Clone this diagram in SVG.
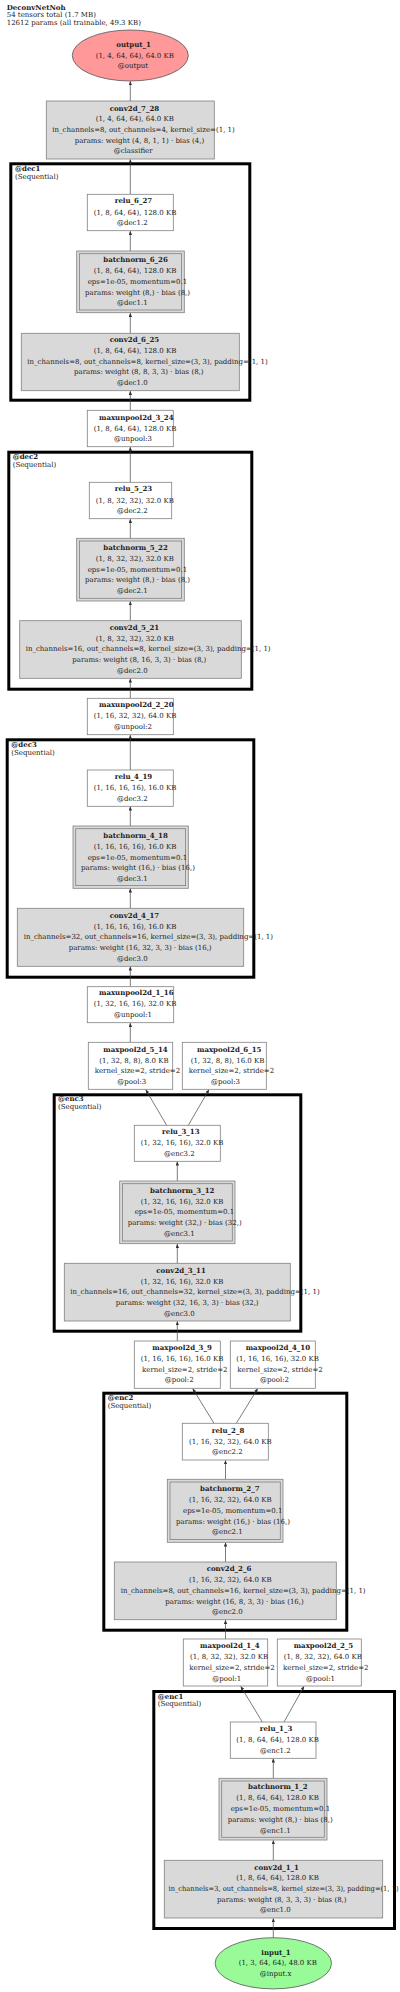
<svg xmlns="http://www.w3.org/2000/svg" width="400" height="1992" viewBox="0 0 400 1992">
<style>
text{font-family:"DejaVu Serif","Liberation Serif",serif;font-size:7px;fill:#222}
.b{font-weight:bold}
.box{fill:#fff;stroke:#808080;stroke-width:0.8}
.gb{fill:#d9d9d9;stroke:#808080;stroke-width:0.8}
.in{fill:none;stroke:#808080;stroke-width:0.8}
.cl{fill:none;stroke:#000;stroke-width:3}
.e{stroke:#444;stroke-width:0.7;fill:none;marker-end:url(#ah)}
</style>
<defs>
<marker id="ah" markerUnits="userSpaceOnUse" markerWidth="5" markerHeight="4" refX="4" refY="1.75" orient="auto"><path d="M0,0 L4,1.75 L0,3.5 z" fill="#333"/></marker>
</defs>
<rect width="400" height="1992" fill="#fff"/>
<g id="header">
<text x="6.7" y="9.6" class="b">DeconvNetNoh</text>
<text x="6.7" y="17.4">54 tensors total (1.7 MB)</text>
<text x="6.7" y="25.2">12612 params (all trainable, 49.3 KB)</text>
</g>
<g id="clusters">
<g id="dec1"><rect class="cl" x="10.8" y="163.8" width="239" height="236.4"/><text x="15" y="171.3" class="b">@dec1</text><text x="15" y="179">(Sequential)</text></g>
<g id="dec2"><rect class="cl" x="8.8" y="452.2" width="243" height="237"/><text x="12.7" y="459" class="b">@dec2</text><text x="12.7" y="466.6">(Sequential)</text></g>
<g id="dec3"><rect class="cl" x="7.2" y="739.8" width="246.6" height="237.4"/><text x="11.3" y="746.6" class="b">@dec3</text><text x="11.3" y="754.6">(Sequential)</text></g>
<g id="enc3"><rect class="cl" x="54.2" y="1094.8" width="246.6" height="236.4"/><text x="58" y="1101.3" class="b">@enc3</text><text x="58" y="1109.3">(Sequential)</text></g>
<g id="enc2"><rect class="cl" x="103.8" y="1393.2" width="243" height="237"/><text x="107.7" y="1400" class="b">@enc2</text><text x="107.7" y="1407.6">(Sequential)</text></g>
<g id="enc1"><rect class="cl" x="153.8" y="1691.5" width="240.7" height="237"/><text x="157.7" y="1698.6" class="b">@enc1</text><text x="157.7" y="1706.3">(Sequential)</text></g>
</g>
<g id="connectors">
<line class="e" x1="273.3" y1="1937.7" x2="273.3" y2="1918.3"/>
<line class="e" x1="273.3" y1="1860.3" x2="273.3" y2="1840.3"/>
<line class="e" x1="273.3" y1="1778.3" x2="273.3" y2="1758.6"/>
<line class="e" x1="262.3" y1="1722" x2="240.7" y2="1686.3"/>
<line class="e" x1="284" y1="1722" x2="304" y2="1686.3"/>
<line class="e" x1="225.5" y1="1639" x2="225.5" y2="1620"/>
<line class="e" x1="225.5" y1="1562" x2="225.5" y2="1542.6"/>
<line class="e" x1="225.5" y1="1479.3" x2="225.5" y2="1460.3"/>
<line class="e" x1="214" y1="1423.3" x2="192.7" y2="1388.6"/>
<line class="e" x1="236.3" y1="1423.3" x2="257.7" y2="1388.6"/>
<line class="e" x1="177.3" y1="1341" x2="177.3" y2="1321.3"/>
<line class="e" x1="177.3" y1="1263.3" x2="177.3" y2="1244"/>
<line class="e" x1="177.3" y1="1181" x2="177.3" y2="1161.6"/>
<line class="e" x1="166.7" y1="1125.3" x2="145.7" y2="1089.6"/>
<line class="e" x1="188.3" y1="1125.3" x2="209" y2="1089.6"/>
<line class="e" x1="130.3" y1="1042.3" x2="130.3" y2="1023"/>
<line class="e" x1="130.3" y1="986.7" x2="130.3" y2="966.6"/>
<line class="e" x1="130.3" y1="908.3" x2="130.3" y2="888.6"/>
<line class="e" x1="130.3" y1="826" x2="130.3" y2="806.6"/>
<line class="e" x1="130.3" y1="770" x2="130.3" y2="735"/>
<line class="e" x1="130.3" y1="698.3" x2="130.3" y2="678.6"/>
<line class="e" x1="130.3" y1="620.7" x2="130.3" y2="601.3"/>
<line class="e" x1="130.3" y1="538.3" x2="130.3" y2="519"/>
<line class="e" x1="130.3" y1="482.3" x2="130.3" y2="447"/>
<line class="e" x1="130.3" y1="410.3" x2="130.3" y2="391"/>
<line class="e" x1="130.3" y1="333.3" x2="130.3" y2="313"/>
<line class="e" x1="130.3" y1="251" x2="130.3" y2="231"/>
<line class="e" x1="130.3" y1="194.3" x2="130.3" y2="159.3"/>
<line class="e" x1="130.3" y1="101" x2="130.3" y2="81.2"/>
</g>
<g id="output_1">
<ellipse cx="130.3" cy="55.5" rx="58" ry="25.5" fill="#ff9999" stroke="#555" stroke-width="0.8"/>
<text x="116.3" y="46.6" class="b">output_1</text>
<text x="95.7" y="57.6">(1, 4, 64, 64), 64.0 KB</text>
<text x="117.7" y="68.3">@output</text>
</g>
<g id="conv2d_7_28">
<rect class="gb" x="46.3" y="101" width="168" height="58"/>
<text x="109.7" y="110.6" class="b">conv2d_7_28</text>
<text x="95.7" y="121.3">(1, 4, 64, 64), 64.0 KB</text>
<text x="52.3" y="132">in_channels=8, out_channels=4, kernel_size=(1, 1)</text>
<text x="74.7" y="142.6">params: weight (4, 8, 1, 1) · bias (4,)</text>
<text x="113.7" y="153.3">@classifier</text>
</g>
<g id="relu_6_27">
<rect class="box" x="87.3" y="194.3" width="86" height="36.4"/>
<text x="114.7" y="203.3" class="b">relu_6_27</text>
<text x="93.7" y="214.6">(1, 8, 64, 64), 128.0 KB</text>
<text x="117" y="225.3">@dec1.2</text>
</g>
<g id="batchnorm_6_26">
<rect class="gb" x="76.7" y="251" width="107.6" height="61.7"/>
<rect class="in" x="79.4" y="253.7" width="102.2" height="56.3"/>
<text x="103.3" y="262.3" class="b">batchnorm_6_26</text>
<text x="93.7" y="273.3">(1, 8, 64, 64), 128.0 KB</text>
<text x="87.7" y="284">eps=1e-05, momentum=0.1</text>
<text x="85" y="294.6">params: weight (8,) · bias (8,)</text>
<text x="117" y="305.3">@dec1.1</text>
</g>
<g id="conv2d_6_25">
<rect class="gb" x="21.3" y="333.3" width="218" height="57.4"/>
<text x="109.7" y="342.3" class="b">conv2d_6_25</text>
<text x="93.7" y="353">(1, 8, 64, 64), 128.0 KB</text>
<text x="27.3" y="363.6">in_channels=8, out_channels=8, kernel_size=(3, 3), padding=(1, 1)</text>
<text x="74" y="374.3">params: weight (8, 8, 3, 3) · bias (8,)</text>
<text x="117" y="385">@dec1.0</text>
</g>
<g id="maxunpool2d_3_24">
<rect class="box" x="87.3" y="410.3" width="86" height="36.4"/>
<text x="99" y="419.6" class="b">maxunpool2d_3_24</text>
<text x="93.7" y="430.6">(1, 8, 64, 64), 128.0 KB</text>
<text x="114" y="441.3">@unpool:3</text>
</g>
<g id="relu_5_23">
<rect class="box" x="89.3" y="482.3" width="82.4" height="36.4"/>
<text x="114.7" y="491.3" class="b">relu_5_23</text>
<text x="95.7" y="502.6">(1, 8, 32, 32), 32.0 KB</text>
<text x="117" y="513.3">@dec2.2</text>
</g>
<g id="batchnorm_5_22">
<rect class="gb" x="76.7" y="538.3" width="107.6" height="62.7"/>
<rect class="in" x="79.4" y="541" width="102.2" height="57.3"/>
<text x="103.3" y="550" class="b">batchnorm_5_22</text>
<text x="95.7" y="561">(1, 8, 32, 32), 32.0 KB</text>
<text x="87.7" y="571.6">eps=1e-05, momentum=0.1</text>
<text x="85" y="582.3">params: weight (8,) · bias (8,)</text>
<text x="117" y="593">@dec2.1</text>
</g>
<g id="conv2d_5_21">
<rect class="gb" x="19.7" y="620.7" width="221.6" height="57.6"/>
<text x="109.7" y="629.6" class="b">conv2d_5_21</text>
<text x="95.7" y="640.6">(1, 8, 32, 32), 32.0 KB</text>
<text x="25.7" y="651.3">in_channels=16, out_channels=8, kernel_size=(3, 3), padding=(1, 1)</text>
<text x="72.3" y="662">params: weight (8, 16, 3, 3) · bias (8,)</text>
<text x="117" y="672.6">@dec2.0</text>
</g>
<g id="maxunpool2d_2_20">
<rect class="box" x="87.3" y="698.3" width="86" height="36.4"/>
<text x="99" y="707.3" class="b">maxunpool2d_2_20</text>
<text x="93.7" y="718.3">(1, 16, 32, 32), 64.0 KB</text>
<text x="114" y="729">@unpool:2</text>
</g>
<g id="relu_4_19">
<rect class="box" x="87.3" y="770" width="86" height="36.3"/>
<text x="114.7" y="779.3" class="b">relu_4_19</text>
<text x="93.7" y="790.3">(1, 16, 16, 16), 16.0 KB</text>
<text x="117" y="801">@dec3.2</text>
</g>
<g id="batchnorm_4_18">
<rect class="gb" x="73" y="826" width="115.3" height="62.3"/>
<rect class="in" x="75.7" y="828.7" width="109.9" height="56.9"/>
<text x="103.3" y="838" class="b">batchnorm_4_18</text>
<text x="93.7" y="849">(1, 16, 16, 16), 16.0 KB</text>
<text x="87.7" y="859.6">eps=1e-05, momentum=0.1</text>
<text x="81" y="870.3">params: weight (16,) · bias (16,)</text>
<text x="117" y="881">@dec3.1</text>
</g>
<g id="conv2d_4_17">
<rect class="gb" x="17.3" y="908.3" width="226.4" height="58"/>
<text x="109.7" y="917.6" class="b">conv2d_4_17</text>
<text x="93.7" y="928.6">(1, 16, 16, 16), 16.0 KB</text>
<text x="23.7" y="939.3">in_channels=32, out_channels=16, kernel_size=(3, 3), padding=(1, 1)</text>
<text x="68.7" y="950">params: weight (16, 32, 3, 3) · bias (16,)</text>
<text x="117" y="960.6">@dec3.0</text>
</g>
<g id="maxunpool2d_1_16">
<rect class="box" x="87.3" y="986.7" width="86.4" height="36"/>
<text x="99" y="995" class="b">maxunpool2d_1_16</text>
<text x="93.7" y="1006.3">(1, 32, 16, 16), 32.0 KB</text>
<text x="114" y="1017">@unpool:1</text>
</g>
<g id="maxpool2d_5_14">
<rect class="box" x="88.3" y="1042.3" width="84.4" height="47"/>
<text x="103.3" y="1051.6" class="b">maxpool2d_5_14</text>
<text x="99.3" y="1062.6">(1, 32, 8, 8), 8.0 KB</text>
<text x="94.7" y="1073.3">kernel_size=2, stride=2</text>
<text x="117.3" y="1084">@pool:3</text>
</g>
<g id="maxpool2d_6_15">
<rect class="box" x="182.3" y="1042.3" width="84" height="47"/>
<text x="197" y="1051.6" class="b">maxpool2d_6_15</text>
<text x="190.7" y="1062.6">(1, 32, 8, 8), 16.0 KB</text>
<text x="188.7" y="1073.3">kernel_size=2, stride=2</text>
<text x="211" y="1084">@pool:3</text>
</g>
<g id="relu_3_13">
<rect class="box" x="134.3" y="1125.3" width="86" height="36"/>
<text x="162" y="1134" class="b">relu_3_13</text>
<text x="140.7" y="1145.3">(1, 32, 16, 16), 32.0 KB</text>
<text x="164" y="1156">@enc3.2</text>
</g>
<g id="batchnorm_3_12">
<rect class="gb" x="119.7" y="1181" width="115.3" height="62.7"/>
<rect class="in" x="122.4" y="1183.7" width="109.9" height="57.3"/>
<text x="150" y="1192.6" class="b">batchnorm_3_12</text>
<text x="140.7" y="1203.6">(1, 32, 16, 16), 32.0 KB</text>
<text x="134.7" y="1214.3">eps=1e-05, momentum=0.1</text>
<text x="127.7" y="1225">params: weight (32,) · bias (32,)</text>
<text x="164" y="1236">@enc3.1</text>
</g>
<g id="conv2d_3_11">
<rect class="gb" x="64.3" y="1263.3" width="226" height="57.7"/>
<text x="156.3" y="1273" class="b">conv2d_3_11</text>
<text x="140.7" y="1283.6">(1, 32, 16, 16), 32.0 KB</text>
<text x="70.3" y="1294.3">in_channels=16, out_channels=32, kernel_size=(3, 3), padding=(1, 1)</text>
<text x="115.7" y="1305">params: weight (32, 16, 3, 3) · bias (32,)</text>
<text x="164" y="1315.6">@enc3.0</text>
</g>
<g id="maxpool2d_3_9">
<rect class="box" x="134.3" y="1341" width="86" height="47.3"/>
<text x="152.3" y="1349.6" class="b">maxpool2d_3_9</text>
<text x="140.7" y="1361">(1, 16, 16, 16), 16.0 KB</text>
<text x="142" y="1371.6">kernel_size=2, stride=2</text>
<text x="164.7" y="1382.3">@pool:2</text>
</g>
<g id="maxpool2d_4_10">
<rect class="box" x="230.3" y="1341" width="85" height="47.3"/>
<text x="245.7" y="1349.6" class="b">maxpool2d_4_10</text>
<text x="236.3" y="1361">(1, 16, 16, 16), 32.0 KB</text>
<text x="237.3" y="1371.6">kernel_size=2, stride=2</text>
<text x="260" y="1382.3">@pool:2</text>
</g>
<g id="relu_2_8">
<rect class="box" x="182.3" y="1423.3" width="86" height="36.7"/>
<text x="211.7" y="1432.6" class="b">relu_2_8</text>
<text x="189" y="1443.6">(1, 16, 32, 32), 64.0 KB</text>
<text x="212" y="1454.3">@enc2.2</text>
</g>
<g id="batchnorm_2_7">
<rect class="gb" x="167.3" y="1479.3" width="115.7" height="63"/>
<rect class="in" x="170" y="1482" width="110.3" height="57.6"/>
<text x="200" y="1491.3" class="b">batchnorm_2_7</text>
<text x="189" y="1502.3">(1, 16, 32, 32), 64.0 KB</text>
<text x="183" y="1513">eps=1e-05, momentum=0.1</text>
<text x="176" y="1523.6">params: weight (16,) · bias (16,)</text>
<text x="212" y="1534.3">@enc2.1</text>
</g>
<g id="conv2d_2_6">
<rect class="gb" x="114.3" y="1562" width="222" height="57.7"/>
<text x="206.7" y="1571.3" class="b">conv2d_2_6</text>
<text x="189" y="1582.3">(1, 16, 32, 32), 64.0 KB</text>
<text x="120.7" y="1593">in_channels=8, out_channels=16, kernel_size=(3, 3), padding=(1, 1)</text>
<text x="165.3" y="1603.6">params: weight (16, 8, 3, 3) · bias (16,)</text>
<text x="212" y="1614.3">@enc2.0</text>
</g>
<g id="maxpool2d_1_4">
<rect class="box" x="183.3" y="1639" width="84.4" height="47"/>
<text x="200" y="1648.3" class="b">maxpool2d_1_4</text>
<text x="190" y="1659">(1, 8, 32, 32), 32.0 KB</text>
<text x="189.3" y="1669.6">kernel_size=2, stride=2</text>
<text x="212.3" y="1680.6">@pool:1</text>
</g>
<g id="maxpool2d_2_5">
<rect class="box" x="277.3" y="1639" width="84" height="47"/>
<text x="293.7" y="1648.3" class="b">maxpool2d_2_5</text>
<text x="283.7" y="1659">(1, 8, 32, 32), 64.0 KB</text>
<text x="283" y="1669.6">kernel_size=2, stride=2</text>
<text x="306" y="1680.6">@pool:1</text>
</g>
<g id="relu_1_3">
<rect class="box" x="230.3" y="1722" width="85.7" height="36.3"/>
<text x="259.7" y="1731.3" class="b">relu_1_3</text>
<text x="236.3" y="1742.3">(1, 8, 64, 64), 128.0 KB</text>
<text x="260" y="1753">@enc1.2</text>
</g>
<g id="batchnorm_1_2">
<rect class="gb" x="219" y="1778.3" width="108" height="61.7"/>
<rect class="in" x="221.7" y="1781" width="102.6" height="56.3"/>
<text x="248" y="1789.3" class="b">batchnorm_1_2</text>
<text x="236.3" y="1800.3">(1, 8, 64, 64), 128.0 KB</text>
<text x="230.7" y="1811.3">eps=1e-05, momentum=0.1</text>
<text x="227.7" y="1822">params: weight (8,) · bias (8,)</text>
<text x="260" y="1833">@enc1.1</text>
</g>
<g id="conv2d_1_1">
<rect class="gb" x="164.3" y="1860.3" width="218.4" height="57.7"/>
<text x="254.3" y="1869.6" class="b">conv2d_1_1</text>
<text x="236.3" y="1880.3">(1, 8, 64, 64), 128.0 KB</text>
<text x="168.5" y="1891" textLength="230" lengthAdjust="spacingAndGlyphs">in_channels=3, out_channels=8, kernel_size=(3, 3), padding=(1, 1)</text>
<text x="217" y="1901.6">params: weight (8, 3, 3, 3) · bias (8,)</text>
<text x="260" y="1912.3">@enc1.0</text>
</g>
<g id="input_1">
<ellipse cx="273.3" cy="1963.3" rx="58.2" ry="25.6" fill="#98fb98" stroke="#555" stroke-width="0.8"/>
<text x="261.3" y="1954.6" class="b">input_1</text>
<text x="238.7" y="1965.3">(1, 3, 64, 64), 48.0 KB</text>
<text x="259.7" y="1976.3">@input.x</text>
</g>
</svg>
